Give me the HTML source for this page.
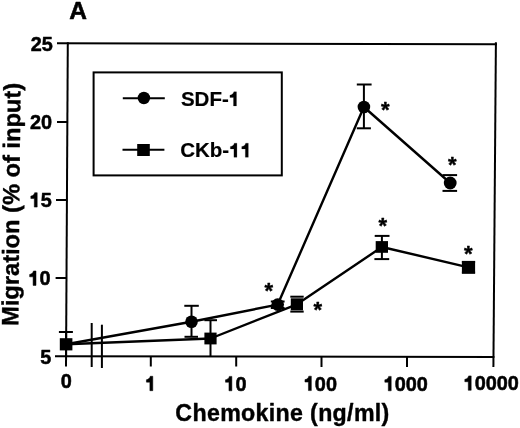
<!DOCTYPE html>
<html><head><meta charset="utf-8">
<style>
html,body{margin:0;padding:0;background:#fff;}
body{width:520px;height:428px;overflow:hidden;}
svg{display:block;filter:grayscale(1);}
text{font-family:"Liberation Sans",sans-serif;font-weight:bold;fill:#000;stroke:#000;stroke-width:0.25px;stroke-linejoin:round;font-kerning:none;}
.o1{fill-opacity:0;stroke-opacity:0;}
.g1{fill:#000;stroke:#000;stroke-linejoin:round;}
</style></head>
<body>
<svg width="520" height="428" viewBox="0 0 520 428">
<rect width="520" height="428" fill="#fff"/>
<!-- axes frame -->
<g stroke="#000" stroke-width="2" fill="none" stroke-linecap="butt">
  <line x1="57" y1="43.2" x2="497" y2="44.2"/>
  <line x1="67.8" y1="42.2" x2="66" y2="366.5"/>
  <line x1="55" y1="356.2" x2="494.4" y2="356.9"/>
  <line x1="495.9" y1="42.2" x2="493.4" y2="367"/>
  <line x1="57" y1="122" x2="67.5" y2="122"/>
  <line x1="56" y1="200" x2="67" y2="200"/>
  <line x1="55.6" y1="278" x2="66.6" y2="278"/>
  <line x1="150.8" y1="356.5" x2="150.8" y2="366.5"/>
  <line x1="236.2" y1="356.5" x2="236.2" y2="366.5"/>
  <line x1="321.5" y1="356.5" x2="321.5" y2="367"/>
  <line x1="407" y1="356.5" x2="407" y2="367"/>
  <line x1="91.7" y1="323" x2="91.7" y2="367"/>
  <line x1="101.9" y1="324.7" x2="101.9" y2="368"/>
</g>
<!-- legend -->
<g stroke="#000" stroke-width="2" fill="none">
  <rect x="93.6" y="72.4" width="188.2" height="103"/>
  <line x1="122.8" y1="98.3" x2="164.8" y2="98.3"/>
  <line x1="122.5" y1="149.8" x2="164.4" y2="149.8"/>
</g>
<circle cx="143.9" cy="98" r="6.2" fill="#000"/>
<rect x="137.2" y="144" width="12.6" height="12" fill="#000"/>
<!-- data lines -->
<g stroke="#000" stroke-width="2.4" fill="none" stroke-linejoin="round">
  <polyline points="66.1,344.3 191.5,321.7 277.7,304.6 363.9,107 450.2,183"/>
  <polyline points="66.1,344.3 210.5,338.5 297,304.3 381.9,247 468.5,267.3"/>
</g>
<!-- error bars -->
<g stroke="#000" stroke-width="2" fill="none">
  <line x1="66.1" y1="332" x2="66.1" y2="356.6"/>
  <line x1="58.9" y1="332" x2="72.9" y2="332"/>
  <line x1="191.5" y1="305.8" x2="191.5" y2="336.8"/>
  <line x1="184.3" y1="305.8" x2="198.8" y2="305.8"/>
  <line x1="184.5" y1="336.8" x2="198" y2="336.8"/>
  <line x1="270.8" y1="301.5" x2="284.6" y2="301.5"/>
  <line x1="270.8" y1="308" x2="284.6" y2="308"/>
  <line x1="363.9" y1="84.5" x2="363.9" y2="128.3"/>
  <line x1="356.8" y1="84.5" x2="371.6" y2="84.5"/>
  <line x1="356.8" y1="128.3" x2="370.9" y2="128.3"/>
  <line x1="442.5" y1="175.1" x2="457.1" y2="175.1"/>
  <line x1="442.5" y1="190.9" x2="457.1" y2="190.9"/>
  <line x1="210.5" y1="320.2" x2="210.5" y2="356.6"/>
  <line x1="204.4" y1="320.2" x2="217" y2="320.2"/>
  <line x1="290.3" y1="296.7" x2="303.7" y2="296.7"/>
  <line x1="290.3" y1="311.6" x2="303.7" y2="311.6"/>
  <line x1="381.9" y1="235.9" x2="381.9" y2="259.1"/>
  <line x1="374.7" y1="235.9" x2="389.5" y2="235.9"/>
  <line x1="374.4" y1="259.1" x2="389.2" y2="259.1"/>
  <line x1="461.9" y1="262" x2="475.1" y2="262"/>
  <line x1="461.9" y1="272.6" x2="475.1" y2="272.6"/>
</g>
<!-- markers -->
<g fill="#000">
  <circle cx="191.5" cy="321.7" r="6.3"/>
  <circle cx="277.7" cy="304.6" r="6.3"/>
  <circle cx="363.9" cy="107" r="6.3"/>
  <circle cx="450.2" cy="183" r="6.4"/>
  <rect x="59.8" y="338.2" width="12.6" height="12.2"/>
  <rect x="204.4" y="332.6" width="12.2" height="11.8"/>
  <rect x="290.8" y="298.3" width="12.2" height="12"/>
  <rect x="375.7" y="241.1" width="12.3" height="11.7"/>
  <rect x="461.9" y="260.9" width="13.2" height="12.7"/>
</g>
<!-- text -->
<text transform="translate(69.3,18.6)" font-size="24.5" style="stroke-width:0.6px">A</text>
<text transform="translate(52.8,50.8) scale(0.97,1.02)" font-size="20.5" text-anchor="end" style="stroke-width:0.5px">25</text>
<text transform="translate(52.1,128.8) scale(0.97,1.02)" font-size="20.5" text-anchor="end" style="stroke-width:0.5px">20</text>
<text transform="translate(51.8,207.1) scale(0.97,1.02)" font-size="20.5" text-anchor="end" style="stroke-width:0.5px"><tspan class="o1">1</tspan>5</text>
<text transform="translate(50.6,285.4) scale(0.97,1.02)" font-size="20.5" text-anchor="end" style="stroke-width:0.5px"><tspan class="o1">1</tspan>0</text>
<text transform="translate(51.4,363.8) scale(0.97,1.02)" font-size="20.5" text-anchor="end" style="stroke-width:0.5px">5</text>
<text transform="translate(66.3,387.9) scale(0.97,1.02)" font-size="20.5" text-anchor="middle" style="stroke-width:0.5px">0</text>
<text transform="translate(150.8,390.7) scale(0.97,1.02)" font-size="20.5" text-anchor="middle" style="stroke-width:0.5px"><tspan class="o1">1</tspan></text>
<text transform="translate(235.4,390.8) scale(0.97,1.02)" font-size="20.5" text-anchor="middle" style="stroke-width:0.5px"><tspan class="o1">1</tspan>0</text>
<text transform="translate(320.4,390.6) scale(0.97,1.02)" font-size="20.5" text-anchor="middle" style="stroke-width:0.5px"><tspan class="o1">1</tspan>00</text>
<text transform="translate(405.8,390.8) scale(0.97,1.02)" font-size="20.5" text-anchor="middle" style="stroke-width:0.5px"><tspan class="o1">1</tspan>000</text>
<text transform="translate(491.3,390.3) scale(0.97,1.02)" font-size="20.5" text-anchor="middle" style="stroke-width:0.5px"><tspan class="o1">1</tspan>0000</text>
<text transform="translate(175.35,421.1)" font-size="23.2" letter-spacing="0.33" style="stroke-width:0.4px">Chemokine (ng/ml)</text>
<text transform="translate(180.9,105.9)" font-size="20.5" style="stroke-width:0.2px">SDF-<tspan class="o1">1</tspan></text>
<text transform="translate(180.2,157.3)" font-size="20.5" style="stroke-width:0.2px">CKb-<tspan class="o1">1</tspan><tspan class="o1">1</tspan></text>
<text transform="translate(268.7,297.8)" font-size="22" text-anchor="middle" style="stroke-width:0.4px">*</text>
<text transform="translate(317.9,316.7)" font-size="22" text-anchor="middle" style="stroke-width:0.4px">*</text>
<text transform="translate(385.4,117.3)" font-size="22" text-anchor="middle" style="stroke-width:0.4px">*</text>
<text transform="translate(452.2,171.6)" font-size="22" text-anchor="middle" style="stroke-width:0.4px">*</text>
<text transform="translate(382.9,233.4)" font-size="22" text-anchor="middle" style="stroke-width:0.4px">*</text>
<text transform="translate(468.2,260.7)" font-size="22" text-anchor="middle" style="stroke-width:0.4px">*</text>
<text transform="translate(18.3,325.9) rotate(-89.5)" font-size="23.65" style="stroke-width:0.4px">Migration (% of input)</text>
<path class="g1" stroke-width="0.5" transform="matrix(0.97,0,0,1.02,51.8,207.1)" d="M-15.05 0.00 L-18.04 0.00 L-18.04 -8.40 L-21.61 -8.40 L-21.61 -10.76 C-19.62 -10.97 -17.98 -12.30 -17.67 -14.14 L-15.05 -14.14 Z"/>
<path class="g1" stroke-width="0.5" transform="matrix(0.97,0,0,1.02,50.6,285.4)" d="M-15.05 0.00 L-18.04 0.00 L-18.04 -8.40 L-21.61 -8.40 L-21.61 -10.76 C-19.62 -10.97 -17.98 -12.30 -17.67 -14.14 L-15.05 -14.14 Z"/>
<path class="g1" stroke-width="0.5" transform="matrix(0.97,0,0,1.02,150.8,390.7)" d="M2.05 0.00 L-0.94 0.00 L-0.94 -8.40 L-4.51 -8.40 L-4.51 -10.76 C-2.52 -10.97 -0.88 -12.30 -0.57 -14.14 L2.05 -14.14 Z"/>
<path class="g1" stroke-width="0.5" transform="matrix(0.97,0,0,1.02,235.4,390.8)" d="M-3.65 0.00 L-6.64 0.00 L-6.64 -8.40 L-10.21 -8.40 L-10.21 -10.76 C-8.22 -10.97 -6.58 -12.30 -6.27 -14.14 L-3.65 -14.14 Z"/>
<path class="g1" stroke-width="0.5" transform="matrix(0.97,0,0,1.02,320.4,390.6)" d="M-9.35 0.00 L-12.34 0.00 L-12.34 -8.40 L-15.91 -8.40 L-15.91 -10.76 C-13.92 -10.97 -12.28 -12.30 -11.97 -14.14 L-9.35 -14.14 Z"/>
<path class="g1" stroke-width="0.5" transform="matrix(0.97,0,0,1.02,405.8,390.8)" d="M-15.05 0.00 L-18.04 0.00 L-18.04 -8.40 L-21.61 -8.40 L-21.61 -10.76 C-19.62 -10.97 -17.98 -12.30 -17.67 -14.14 L-15.05 -14.14 Z"/>
<path class="g1" stroke-width="0.5" transform="matrix(0.97,0,0,1.02,491.3,390.3)" d="M-20.74 0.00 L-23.74 0.00 L-23.74 -8.40 L-27.30 -8.40 L-27.30 -10.76 C-25.32 -10.97 -23.68 -12.30 -23.37 -14.14 L-20.74 -14.14 Z"/>
<path class="g1" stroke-width="0.2" transform="matrix(1,0,0,1,180.9,105.9)" d="M55.58 0.00 L52.58 0.00 L52.58 -8.40 L49.02 -8.40 L49.02 -10.76 C51.01 -10.97 52.65 -12.30 52.95 -14.14 L55.58 -14.14 Z"/>
<path class="g1" stroke-width="0.2" transform="matrix(1,0,0,1,180.2,157.3)" d="M56.72 0.00 L53.72 0.00 L53.72 -8.40 L50.16 -8.40 L50.16 -10.76 C52.15 -10.97 53.79 -12.30 54.09 -14.14 L56.72 -14.14 Z"/>
<path class="g1" stroke-width="0.2" transform="matrix(1,0,0,1,180.2,157.3)" d="M68.12 0.00 L65.13 0.00 L65.13 -8.40 L61.56 -8.40 L61.56 -10.76 C63.55 -10.97 65.19 -12.30 65.50 -14.14 L68.12 -14.14 Z"/>
</svg>
</body></html>
